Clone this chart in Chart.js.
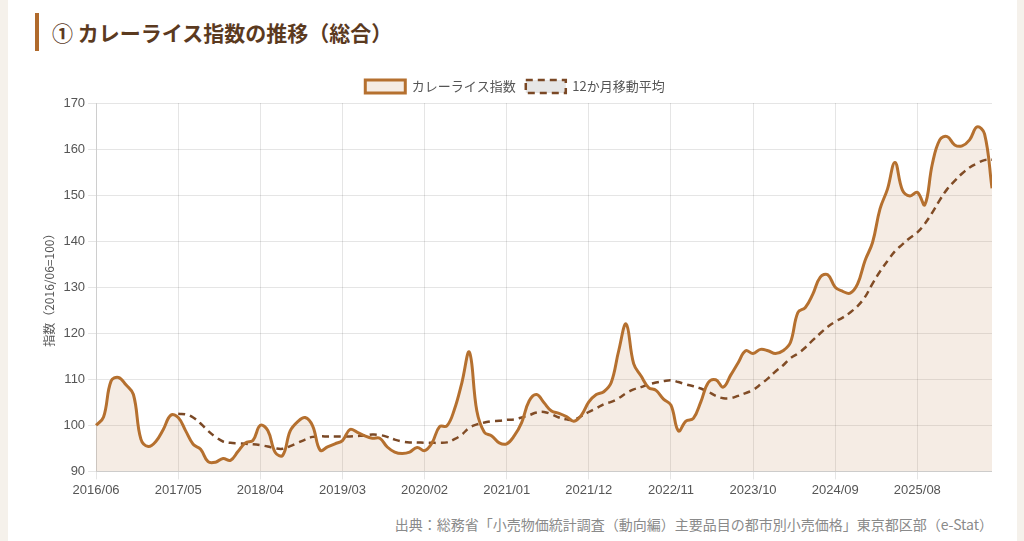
<!DOCTYPE html>
<html lang="ja">
<head>
<meta charset="utf-8">
<script src="https://cdn.jsdelivr.net/npm/chart.js@4/dist/chart.umd.min.js"></script>
<style>
  html, body { margin:0; padding:0; }
  body { width:1024px; height:541px; background:#f5f1eb; position:relative; overflow:hidden;
         font-family:"Noto Sans CJK JP","Noto Sans",sans-serif; }
  .card { position:absolute; left:8px; top:0; width:1009px; height:541px; background:#fff; }
  .title { position:absolute; left:35px; top:13px; height:38px; border-left:4px solid #b06a2c;
           padding-left:13px; line-height:38px; font-size:21px; font-weight:bold; color:#5b3a1f; white-space:nowrap; }
  .chartbox { position:absolute; left:38px; top:70px; width:954px; height:431px; }
  .source { position:absolute; right:31px; top:514px; font-size:14px; color:#8a8a8a; white-space:nowrap; }
</style>
</head>
<body>
<div class="card"></div>
<div class="title">① カレーライス指数の推移（総合）</div>
<div class="chartbox"><canvas id="c"></canvas></div>
<div class="source">出典：総務省「小売物価統計調査（動向編）主要品目の都市別小売価格」東京都区部（e-Stat）</div>
<script>
// categories: monthly from 2016/06, 121 months
const startYear = 2016, startMonth = 6, monthCount = 121;
const labels = [];
for (let k = 0; k < monthCount; k++) {
  const m = startMonth - 1 + k;
  const y = startYear + Math.floor(m / 12);
  const mm = (m % 12) + 1;
  labels.push(y + '/' + String(mm).padStart(2, '0'));
}

const curryIndex = [
  100.0, 101.8, 109.6, 110.4, 108.8, 106.7, 97.0, 95.4, 96.5, 99.1,
  102.2, 101.7, 98.8, 95.9, 94.8, 92.1, 92.0, 92.8, 92.4, 94.3,
  96.2, 96.7, 100.0, 98.9, 94.1, 93.5, 98.8, 100.8, 101.7, 99.9,
  94.6, 95.3, 96.0, 96.7, 99.1, 98.5, 97.7, 97.2, 97.2, 95.3,
  94.2, 93.9, 94.2, 95.2, 94.5, 96.2, 99.7, 99.9, 103.5, 109.3,
  115.9, 103.1, 98.5, 97.7, 96.2, 96.0, 97.7, 100.6, 105.3, 106.7,
  104.9, 103.1, 102.6, 101.9, 100.9, 102.2, 105.1, 106.7, 107.3, 109.3,
  116.2, 122.0, 113.4, 110.7, 108.2, 107.6, 105.7, 104.4, 98.8, 100.9,
  101.5, 105.1, 109.3, 109.9, 108.3, 110.9, 113.6, 116.2, 115.6, 116.5,
  116.2, 115.6, 116.2, 118.0, 124.5, 125.6, 128.5, 132.2, 132.7, 130.0,
  129.1, 128.7, 130.7, 135.8, 139.7, 147.0, 151.3, 157.1, 151.1, 149.8,
  150.6, 147.9, 156.7, 162.0, 162.7, 160.9, 160.7, 162.0, 164.8, 163.3,
  151.5
];

const movingAvg12 = [
  null, null, null, null, null, null, null, null, null, null,
  null, 102.5, 102.4, 101.7, 100.4, 98.8, 97.5, 96.5, 96.2, 96.1,
  96.0, 95.9, 95.7, 95.4, 95.0, 94.9, 95.5, 96.2, 96.9, 97.5,
  97.6, 97.6, 97.6, 97.6, 97.6, 97.7, 97.8, 98.0, 97.9, 97.5,
  96.9, 96.5, 96.3, 96.3, 96.2, 96.2, 96.2, 96.3, 97.0, 98.0,
  99.5, 100.2, 100.6, 100.9, 101.0, 101.2, 101.3, 101.7, 102.2, 102.8,
  102.9, 102.4, 101.7, 101.3, 101.2, 102.0, 102.9, 103.7, 104.6, 105.1,
  105.9, 107.0, 107.8, 108.3, 108.9, 109.3, 109.6, 109.8, 109.4, 108.9,
  108.5, 108.0, 107.3, 106.4, 105.9, 105.9, 106.4, 107.0, 107.7, 108.9,
  110.2, 111.7, 113.0, 114.6, 115.6, 116.9, 118.5, 120.0, 121.4, 122.5,
  123.4, 124.5, 125.9, 127.9, 130.8, 133.4, 135.7, 137.8, 139.3, 140.7,
  141.9, 143.8, 146.2, 148.9, 151.3, 153.1, 154.7, 156.0, 156.9, 157.6,
  157.7
];

const yTicks = { min: 90, max: 170, step: 10 };

Chart.defaults.font.family = "'Liberation Sans', Arial, 'Noto Sans CJK JP', sans-serif";
Chart.defaults.font.size = 13;
Chart.defaults.color = '#666';

new Chart(document.getElementById('c'), {
  type: 'line',
  data: {
    labels: labels,
    datasets: [
      {
        label: 'カレーライス指数',
        data: curryIndex,
        borderColor: '#b5702f',
        backgroundColor: 'rgba(181,112,47,0.13)',
        borderWidth: 3,
        fill: 'origin',
        tension: 0.4,
        pointRadius: 0,
        pointHoverRadius: 0
      },
      {
        label: '12か月移動平均',
        data: movingAvg12,
        borderColor: '#7a4825',
        backgroundColor: '#e6e6e6',
        borderWidth: 2.5,
        borderDash: [7, 5],
        fill: false,
        tension: 0.4,
        pointRadius: 0,
        pointHoverRadius: 0,
        spanGaps: false
      }
    ]
  },
  options: {
    responsive: true,
    maintainAspectRatio: false,
    animation: false,
    layout: { padding: { left: 0, right: 0, top: 0, bottom: 0 } },
    plugins: {
      legend: {
        position: 'top',
        labels: { boxWidth: 40, boxHeight: 13, color: '#555', font: { size: 13, family: "'Noto Sans CJK JP', sans-serif" } }
      },
      tooltip: { enabled: false }
    },
    scales: {
      x: {
        grid: { color: 'rgba(0,0,0,0.1)' },
        ticks: { autoSkip: true, maxTicksLimit: 11, maxRotation: 0, minRotation: 0, color: '#555' }
      },
      y: {
        min: yTicks.min,
        max: yTicks.max,
        ticks: { stepSize: yTicks.step, color: '#555' },
        grid: { color: 'rgba(0,0,0,0.1)' },
        title: { display: true, text: '指数（2016/06=100）', color: '#555',
                 font: { size: 12, family: "'Noto Sans CJK JP', sans-serif" } }
      }
    }
  }
});
</script>
</body>
</html>
